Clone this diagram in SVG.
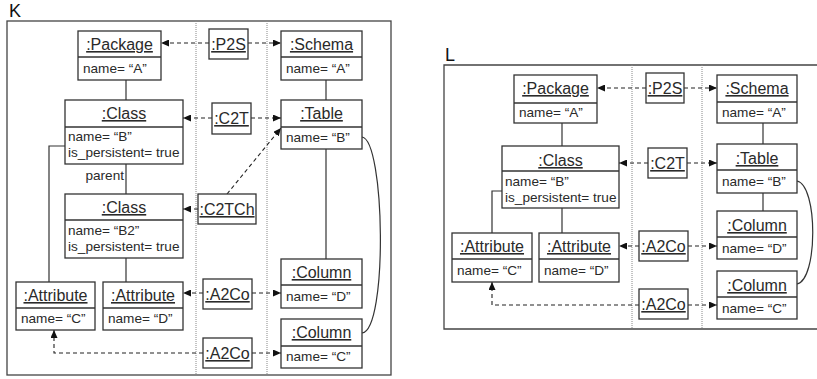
<svg xmlns="http://www.w3.org/2000/svg" width="817" height="379" viewBox="0 0 817 379">
<defs>
<marker id="arr" markerUnits="userSpaceOnUse" markerWidth="8" markerHeight="7" refX="8" refY="3.5" orient="auto">
<path d="M0,0 L8,3.5 L0,7 z" fill="#111"/>
</marker>
<style>
.frame{fill:none;stroke:#444;stroke-width:1.3}
.sep{fill:none;stroke:#888;stroke-width:1;stroke-dasharray:1,1}
.box{fill:#fff;stroke:#333;stroke-width:1.3}
.div{stroke:#333;stroke-width:1.3}
.assoc{fill:none;stroke:#333;stroke-width:1.2}
.dash{fill:none;stroke:#222;stroke-width:1.1;stroke-dasharray:4,3;marker-end:url(#arr)}
.t{font-family:"Liberation Sans",Arial,sans-serif;font-size:16px;fill:#2a2a2a;text-anchor:middle;text-decoration:underline}
.a{font-family:"Liberation Sans",Arial,sans-serif;font-size:13.6px;fill:#2a2a2a}
.lbl{font-family:"Liberation Sans",Arial,sans-serif;font-size:18px;fill:#111}
</style>
</defs>
<rect width="817" height="379" fill="#fff"/>

<!-- Panel K frame -->
<text class="lbl" x="9" y="17">K</text>
<rect class="frame" x="7" y="21" width="384" height="354"/>
<line class="sep" x1="196" y1="21" x2="196" y2="375"/>
<line class="sep" x1="267" y1="21" x2="267" y2="375"/>

<!-- Panel L frame -->
<text class="lbl" x="445" y="61">L</text>
<path class="frame" d="M817,65 H444 V329 H817"/>
<line class="sep" x1="632" y1="65" x2="632" y2="329"/>
<line class="sep" x1="702" y1="65" x2="702" y2="329"/>

<g id="connectors">
<!-- K associations -->
<path class="assoc" d="M126,80 V100"/>
<path class="assoc" d="M126,164 V194"/>
<path class="assoc" d="M65,146 H49 V282"/>
<path class="assoc" d="M126,258 V282"/>
<path class="assoc" d="M326,80 V100"/>
<path class="assoc" d="M326,149 V259"/>
<path class="assoc" d="M362,137 C385,140 388,330 362,333"/>
<!-- K mappings -->
<path class="dash" d="M209,43 H161"/>
<path class="dash" d="M248,43 H281"/>
<path class="dash" d="M212,118 H183"/>
<path class="dash" d="M251,118 H281"/>
<path class="dash" d="M198,209 H183"/>
<path class="dash" d="M227,194 L281,128"/>
<path class="dash" d="M203,293 H183"/>
<path class="dash" d="M252,293 H281"/>
<path class="dash" d="M252,353 H281"/>
<path class="dash" d="M203,353 H54 V330"/>
<!-- L associations -->
<path class="assoc" d="M562,123 V146"/>
<path class="assoc" d="M502,191 H492 V233"/>
<path class="assoc" d="M562,208 V233"/>
<path class="assoc" d="M763,123 V144"/>
<path class="assoc" d="M763,193 V211"/>
<path class="assoc" d="M797,181 C818,185 818,280 797,284"/>
<!-- L mappings -->
<path class="dash" d="M646,88 H597"/>
<path class="dash" d="M684,88 H717"/>
<path class="dash" d="M648,163 H619"/>
<path class="dash" d="M687,163 H717"/>
<path class="dash" d="M639,246 H619"/>
<path class="dash" d="M688,246 H717"/>
<path class="dash" d="M688,305 H717"/>
<path class="dash" d="M639,305 H492 V282"/>
</g>
<text class="a" x="124" y="180" text-anchor="end">parent</text>

<!-- K nodes -->
<g id="k-package">
<rect class="box" x="78" y="31" width="83" height="49"/>
<line class="div" x1="78" y1="57" x2="161" y2="57"/>
<text class="t" x="119.5" y="50">:Package</text>
<text class="a" x="83" y="73">name= “A”</text>
</g>
<g id="k-class">
<rect class="box" x="65" y="100" width="118" height="64"/>
<line class="div" x1="65" y1="127" x2="183" y2="127"/>
<text class="t" x="124" y="119">:Class</text>
<text class="a" x="68" y="141">name= “B”</text>
<text class="a" x="68" y="157">is_persistent= true</text>
</g>
<g id="k-class-b2">
<rect class="box" x="65" y="194" width="118" height="64"/>
<line class="div" x1="65" y1="220" x2="183" y2="220"/>
<text class="t" x="124" y="213">:Class</text>
<text class="a" x="68" y="235">name= “B2”</text>
<text class="a" x="68" y="251">is_persistent= true</text>
</g>
<g id="k-attribute-c">
<rect class="box" x="16" y="282" width="79" height="48"/>
<line class="div" x1="16" y1="308" x2="95" y2="308"/>
<text class="t" x="55.5" y="301">:Attribute</text>
<text class="a" x="21" y="323">name= “C”</text>
</g>
<g id="k-attribute-d">
<rect class="box" x="103" y="282" width="80" height="48"/>
<line class="div" x1="103" y1="308" x2="183" y2="308"/>
<text class="t" x="143" y="301">:Attribute</text>
<text class="a" x="108" y="323">name= “D”</text>
</g>
<g id="k-schema">
<rect class="box" x="281" y="31" width="81" height="49"/>
<line class="div" x1="281" y1="57" x2="362" y2="57"/>
<text class="t" x="321.5" y="50">:Schema</text>
<text class="a" x="286" y="73">name= “A”</text>
</g>
<g id="k-table">
<rect class="box" x="281" y="100" width="81" height="49"/>
<line class="div" x1="281" y1="127" x2="362" y2="127"/>
<text class="t" x="321.5" y="119">:Table</text>
<text class="a" x="286" y="142">name= “B”</text>
</g>
<g id="k-column-d">
<rect class="box" x="281" y="259" width="81" height="49"/>
<line class="div" x1="281" y1="285" x2="362" y2="285"/>
<text class="t" x="321.5" y="278">:Column</text>
<text class="a" x="286" y="301">name= “D”</text>
</g>
<g id="k-column-c">
<rect class="box" x="281" y="319" width="81" height="49"/>
<line class="div" x1="281" y1="346" x2="362" y2="346"/>
<text class="t" x="321.5" y="338">:Column</text>
<text class="a" x="286" y="361">name= “C”</text>
</g>
<g id="k-p2s">
<rect class="box" x="209" y="29" width="39" height="30"/>
<text class="t" x="228.5" y="50">:P2S</text>
</g>
<g id="k-c2t">
<rect class="box" x="212" y="103" width="39" height="31"/>
<text class="t" x="231.5" y="124">:C2T</text>
</g>
<g id="k-c2tch">
<rect class="box" x="198" y="194" width="58" height="30"/>
<text class="t" x="227" y="215">:C2TCh</text>
</g>
<g id="k-a2co-1">
<rect class="box" x="203" y="279" width="49" height="30"/>
<text class="t" x="227.5" y="300">:A2Co</text>
</g>
<g id="k-a2co-2">
<rect class="box" x="203" y="338" width="49" height="30"/>
<text class="t" x="227.5" y="359">:A2Co</text>
</g>

<!-- L nodes -->
<g id="l-package">
<rect class="box" x="514" y="75" width="83" height="48"/>
<line class="div" x1="514" y1="103" x2="597" y2="103"/>
<text class="t" x="555.5" y="94">:Package</text>
<text class="a" x="519" y="117">name= “A”</text>
</g>
<g id="l-class">
<rect class="box" x="502" y="146" width="117" height="62"/>
<line class="div" x1="502" y1="171" x2="619" y2="171"/>
<text class="t" x="560.5" y="166">:Class</text>
<text class="a" x="505" y="186">name= “B”</text>
<text class="a" x="505" y="202">is_persistent= true</text>
</g>
<g id="l-attribute-c">
<rect class="box" x="452" y="233" width="80" height="49"/>
<line class="div" x1="452" y1="259" x2="532" y2="259"/>
<text class="t" x="492" y="252">:Attribute</text>
<text class="a" x="457" y="275">name= “C”</text>
</g>
<g id="l-attribute-d">
<rect class="box" x="539" y="233" width="80" height="49"/>
<line class="div" x1="539" y1="259" x2="619" y2="259"/>
<text class="t" x="579" y="252">:Attribute</text>
<text class="a" x="544" y="275">name= “D”</text>
</g>
<g id="l-schema">
<rect class="box" x="717" y="75" width="80" height="48"/>
<line class="div" x1="717" y1="102" x2="797" y2="102"/>
<text class="t" x="757" y="94">:Schema</text>
<text class="a" x="722" y="117">name= “A”</text>
</g>
<g id="l-table">
<rect class="box" x="717" y="144" width="80" height="49"/>
<line class="div" x1="717" y1="170" x2="797" y2="170"/>
<text class="t" x="757" y="164">:Table</text>
<text class="a" x="722" y="186">name= “B”</text>
</g>
<g id="l-column-d">
<rect class="box" x="717" y="211" width="80" height="48"/>
<line class="div" x1="717" y1="237" x2="797" y2="237"/>
<text class="t" x="757" y="231">:Column</text>
<text class="a" x="722" y="253">name= “D”</text>
</g>
<g id="l-column-c">
<rect class="box" x="717" y="271" width="80" height="48"/>
<line class="div" x1="717" y1="297" x2="797" y2="297"/>
<text class="t" x="757" y="291">:Column</text>
<text class="a" x="722" y="313">name= “C”</text>
</g>
<g id="l-p2s">
<rect class="box" x="646" y="73" width="38" height="30"/>
<text class="t" x="665" y="94">:P2S</text>
</g>
<g id="l-c2t">
<rect class="box" x="648" y="148" width="39" height="30"/>
<text class="t" x="667.5" y="169">:C2T</text>
</g>
<g id="l-a2co-1">
<rect class="box" x="639" y="231" width="49" height="30"/>
<text class="t" x="663.5" y="252">:A2Co</text>
</g>
<g id="l-a2co-2">
<rect class="box" x="639" y="289" width="49" height="30"/>
<text class="t" x="663.5" y="310">:A2Co</text>
</g>
</svg>
